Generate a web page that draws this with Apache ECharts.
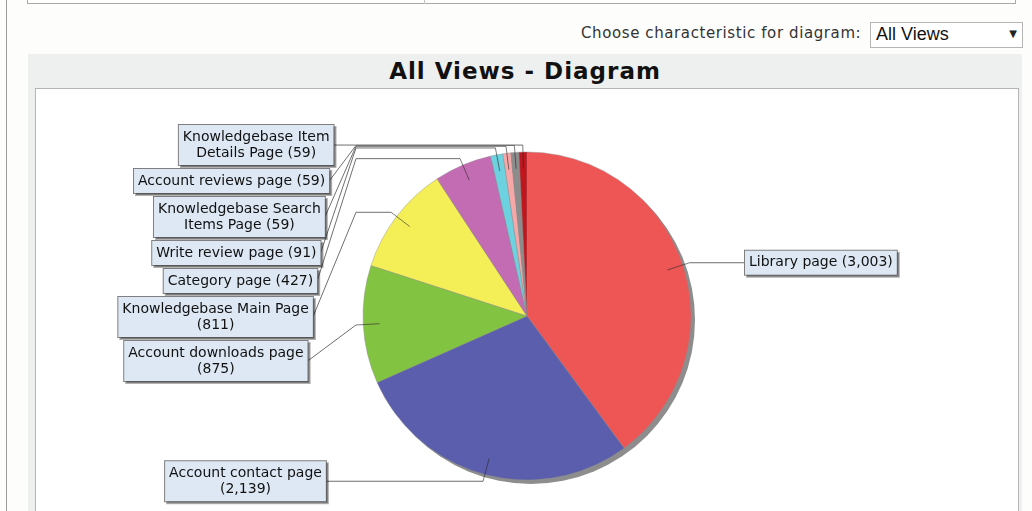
<!DOCTYPE html>
<html>
<head>
<meta charset="utf-8">
<script src="https://cdn.jsdelivr.net/npm/echarts@6/dist/echarts.min.js"></script>
<style>
  html, body { margin: 0; padding: 0; width: 1032px; height: 511px; overflow: hidden; background: #fdfdfc; font-family: "DejaVu Sans", sans-serif; }
  .abs { position: absolute; }
  #leftRule { left: 6px; top: 0; width: 1px; height: 511px; background: #9c9c9c; }
  #topBox { left: 27px; top: -2px; width: 987px; height: 5px; border: 1px solid #a9a9a9; border-top: none; background: #fff; }
  #topDivider { left: 424px; top: 0; width: 1px; height: 4px; background: #c4c4c4; }
  #chooser { left: 581px; top: 24px; font-size: 15px; letter-spacing: 0.6px; color: #333; }
  #select { left: 870px; top: 22px; width: 151px; height: 24px; border: 1px solid #b5b5b5; background: #fff; }
  #selectText { left: 5px; top: 1px; font-family: "Liberation Sans", sans-serif; font-size: 18px; color: #111; }
  #selectArrow { right: 5px; top: 5px; font-size: 10px; color: #222; }
  #frame { left: 28px; top: 54px; width: 994px; height: 470px; background: #eef0ef; }
  #title { left: 28px; top: 54px; width: 994px; height: 34px; line-height: 34px; text-align: center; font-weight: bold; font-size: 23px; letter-spacing: 1px; color: #111; }
  #chartBox { left: 35px; top: 88px; width: 982px; height: 430px; border: 1px solid #b4b4b4; background: #fff; }
  #chart { width: 982px; height: 430px; }
</style>
</head>
<body>
<div id="leftRule" class="abs"></div>
<div id="topBox" class="abs"></div>
<div id="topDivider" class="abs"></div>
<div id="chooser" class="abs">Choose characteristic for diagram:</div>
<div id="select" class="abs"><span id="selectText" class="abs">All Views</span><span id="selectArrow" class="abs">&#9660;</span></div>
<div id="frame" class="abs"></div>
<div id="title" class="abs">All Views - Diagram</div>
<div id="chartBox" class="abs"><div id="chart"></div></div>
<script>
// Views per page, in the order the slices run clockwise from 12 o'clock
const pageNames = [
  'Library page',
  'Account contact page',
  'Account downloads page',
  'Knowledgebase Main Page',
  'Category page',
  'Write review page',
  'Knowledgebase Search Items Page',
  'Account reviews page',
  'Knowledgebase Item Details Page'
];
const viewCounts = [3003, 2139, 875, 811, 427, 91, 59, 59, 59];
const sliceColors = ['#EE5656', '#5A5EAD', '#82C342', '#F4EF57', '#C46CB3', '#6DD2DF', '#F6A7A7', '#8C8C8C', '#C2161D'];

// Pie geometry (chart-local pixels)
const PIE_CX = 491, PIE_CY = 227, PIE_R = 164;
const LINK_R = 0.9 * PIE_R;   // where the leader starts inside the slice
const ELBOW_R = 171;          // link ellipse just outside the pie
const LABEL_FONT_SIZE = 14;
const LINE_H = 16, PAD_V = 4, PAD_H = 4, STACK_GAP = 4;
const WRAP_CHARS = 25;

function labelText(i) {
  return pageNames[i] + ' (' + viewCounts[i].toLocaleString('en-US') + ')';
}

function wrapWords(text, maxChars) {
  const lines = [];
  let cur = '';
  text.split(' ').forEach(w => {
    if (cur && (cur + ' ' + w).length > maxChars) {
      lines.push(cur);
      cur = w;
    } else {
      cur = cur ? cur + ' ' + w : w;
    }
  });
  if (cur) lines.push(cur);
  return lines;
}

const measureCtx = document.createElement('canvas').getContext('2d');
measureCtx.font = LABEL_FONT_SIZE + 'px "DejaVu Sans"';

/**
 * Place labels like a JFreeChart pie: natural height on the link ellipse,
 * then pushed down so boxes on the same side do not overlap.
 */
function buildLabelLayout() {
  const total = viewCounts.reduce((a, b) => a + b, 0);
  let acc = 0;
  const items = viewCounts.map((v, i) => {
    const mid = (acc + v / 2) / total * 2 * Math.PI;
    acc += v;
    const lines = wrapWords(labelText(i), WRAP_CHARS);
    const w = Math.max(...lines.map(l => measureCtx.measureText(l).width)) + 2 * PAD_H;
    const h = lines.length * LINE_H + 2 * PAD_V;
    return { i, mid, lines, w, h, left: Math.sin(mid) < 0, natY: PIE_CY - ELBOW_R * Math.cos(mid) };
  });

  [true, false].forEach(side => {
    let bottom = -Infinity;
    items.filter(it => it.left === side)
      .sort((a, b) => a.natY - b.natY)
      .forEach(it => {
        const top = Math.max(it.natY - it.h / 2, bottom + STACK_GAP);
        it.y = top + it.h / 2;
        bottom = top + it.h;
      });
  });

  items.forEach(it => {
    const dy = it.y - PIE_CY;
    const s = Math.sin(it.mid), c = Math.cos(it.mid);
    let edgeX;
    if (it.left) {
      const d = dy < 46 ? 214 + 0.12 * dy : 219 - 0.15 * (dy - 46);
      edgeX = PIE_CX - d;
      it.x = edgeX - it.w / 2;
    } else {
      edgeX = PIE_CX + 218;
      it.x = edgeX + it.w / 2;
    }
    it.link = [PIE_CX + LINK_R * s, PIE_CY - LINK_R * c];
    it.elbow = [PIE_CX + ELBOW_R * s, PIE_CY - ELBOW_R * c];
    const anchorX = PIE_CX + (it.left ? -ELBOW_R : ELBOW_R);
    it.points = [it.elbow, [anchorX, it.elbow[1]], [edgeX, it.y]];
  });
  return items;
}

const labelLayout = buildLabelLayout();

// Inner part of each leader (slice -> elbow) sits on top of the sectors
const innerLinks = labelLayout.map(it => ({
  type: 'line',
  silent: true,
  z: 10,
  shape: { x1: it.link[0], y1: it.link[1], x2: it.elbow[0], y2: it.elbow[1] },
  style: { stroke: 'rgba(40,40,40,0.6)', lineWidth: 1 }
}));

const chart = echarts.init(document.getElementById('chart'), null, { renderer: 'canvas' });
chart.setOption({
  animation: false,
  graphic: [{
    type: 'circle',
    silent: true,
    z: 0,
    shape: { cx: PIE_CX + 4, cy: PIE_CY + 4, r: PIE_R },
    style: { fill: '#8d8d8d' }
  }].concat(innerLinks),
  series: [{
    type: 'pie',
    z: 2,
    center: [PIE_CX, PIE_CY],
    radius: PIE_R,
    startAngle: 90,
    clockwise: true,
    avoidLabelOverlap: false,
    emphasis: { disabled: true },
    data: pageNames.map((n, i) => ({ name: n, value: viewCounts[i], itemStyle: { color: sliceColors[i] } })),
    itemStyle: { borderColor: '#8a8a8a', borderWidth: 0.4 },
    label: {
      show: true,
      formatter: p => wrapWords(labelText(p.dataIndex), WRAP_CHARS).join('\n'),
      fontFamily: 'DejaVu Sans',
      fontSize: LABEL_FONT_SIZE,
      lineHeight: LINE_H,
      color: '#111',
      backgroundColor: '#DDE8F4',
      borderColor: '#7f7f7f',
      borderWidth: 1,
      padding: [PAD_V, PAD_H, PAD_V, PAD_H],
      align: 'center',
      shadowColor: 'rgba(0,0,0,0.3)',
      shadowOffsetX: 2,
      shadowOffsetY: 2
    },
    labelLine: { show: true, smooth: false, lineStyle: { color: '#6f6f6f', width: 1 } },
    labelLayout: p => {
      const it = labelLayout[p.dataIndex];
      return { x: it.x, y: it.y, align: 'center', verticalAlign: 'middle', labelLinePoints: it.points };
    }
  }]
});
</script>
</body>
</html>
